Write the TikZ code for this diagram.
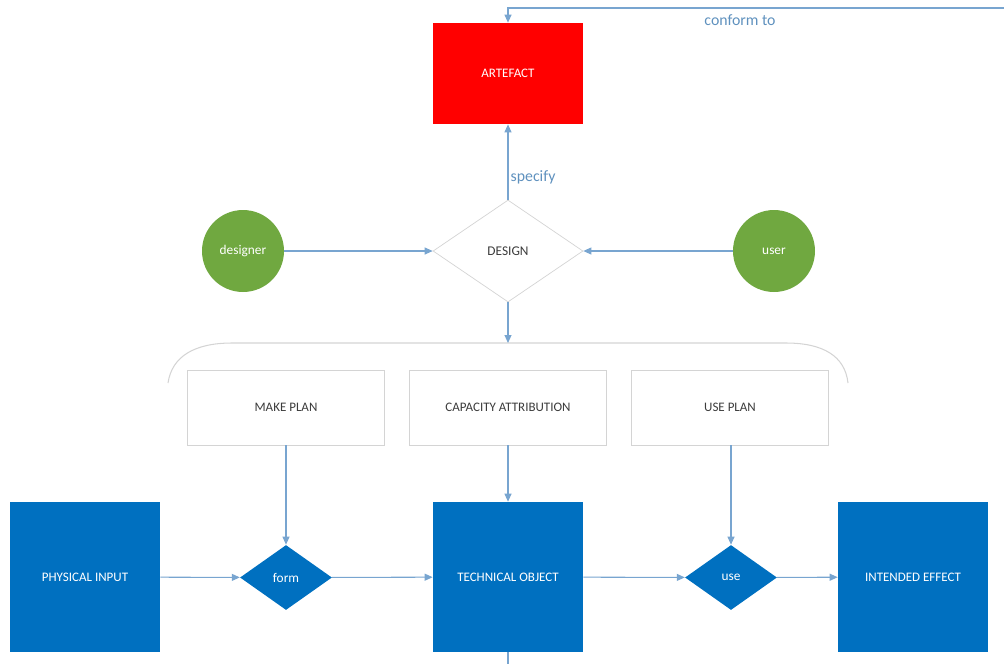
\documentclass[tikz,border=0pt]{standalone}
\usepackage{fontspec}
\setmainfont{Carlito}
\usepackage{tikz}
\usetikzlibrary{positioning,shapes.geometric,arrows.meta}

\definecolor{flowblue}{RGB}{0,112,192}
\definecolor{agentgreen}{RGB}{112,168,64}
\definecolor{linkblue}{RGB}{120,165,208}
\definecolor{labelblue}{RGB}{95,145,190}
\definecolor{boxgray}{RGB}{212,212,212}
\definecolor{textgray}{RGB}{60,60,60}

\tikzset{
  conn/.style={draw=linkblue, line width=0.6pt, -{Triangle[length=1.6mm,width=1.4mm]}},
  plainline/.style={draw=linkblue, line width=0.6pt},
  bluebox/.style={rectangle, fill=flowblue, text=white, minimum width=3cm, minimum height=3cm, font=\fontsize{7.4}{8}\selectfont},
  planbox/.style={rectangle, draw=boxgray, fill=white, text=textgray, minimum width=3.94cm, minimum height=1.5cm, font=\fontsize{7.4}{8}\selectfont},
  actdiamond/.style={diamond, fill=flowblue, text=white, inner sep=0pt, minimum width=1.84cm, minimum height=1.3cm, font=\fontsize{7.6}{8}\selectfont},
  agent/.style={circle, fill=agentgreen, text=white, inner sep=0pt, minimum size=1.64cm, font=\fontsize{7.6}{8}\selectfont},
  edgelabel/.style={text=labelblue, font=\fontsize{9}{10}\selectfont}
}

\begin{document}
\begin{tikzpicture}[x=0.02cm, y=-0.02cm]
    \useasboundingbox (0,0) rectangle (1004,664);

    % top part
    \node[rectangle, fill=red, text=white, minimum width=3cm, minimum height=2.02cm, font=\fontsize{7.4}{8}\selectfont] at (508,73.5) (artefact) {ARTEFACT};
    \node[diamond, draw=boxgray, fill=white, text=textgray, inner sep=0pt, minimum width=3cm, minimum height=2.04cm, font=\fontsize{7.6}{8}\selectfont] at (508,251) (design) {DESIGN};
    \node[agent] at (243,251) (designer) {designer};
    \node[agent] at (774,251) (user) {user};

    \coordinate (cfstart) at (1004,8);
    \draw[conn] (cfstart) -| (artefact.north);
    \node[edgelabel] at (740,20) (cflabel) {conform to};

    \draw[conn] (design.north) -- (artefact.south);
    \node[edgelabel, right=-2pt of design.north, yshift=0.45cm] (speclabel) {specify};
    \draw[conn] (designer) -- (design.west);
    \draw[conn] (user) -- (design.east);

    % bracket over the plans
    \coordinate (bracetop) at (508,343);
    \draw[boxgray, line width=0.6pt] (168,383) .. controls (172,356) and (195,343) .. (232,343)
        -- (786,343) .. controls (823,343) and (845,356) .. (848,383);
    \draw[conn] (design.south) -- (bracetop);

    \node[planbox] at (286,407.5) (makeplan) {MAKE PLAN};
    \node[planbox] at (508,407.5) (capacity) {CAPACITY ATTRIBUTION};
    \node[planbox] at (730,407.5) (useplan) {USE PLAN};

    % bottom row
    \node[bluebox] at (85,577) (physin) {PHYSICAL INPUT};
    \node[actdiamond] at (286,577.5) (form) {form};
    \node[bluebox] at (508,577) (techobj) {TECHNICAL OBJECT};
    \node[actdiamond] at (731,577.5) (use) {use};
    \node[bluebox] at (913,577) (effect) {INTENDED EFFECT};

    \draw[conn] (makeplan) -- (form);
    \draw[conn] (capacity) -- (techobj);
    \draw[conn] (useplan.south -| use.north) -- (use);

    \draw[conn] (physin) -- (form);
    \draw[conn] (form) -- (techobj);
    \draw[conn] (techobj) -- (use);
    \draw[conn] (use) -- (effect);

    \coordinate (tobelow) at (508,664);
    \draw[plainline] (techobj) -- (tobelow);
\end{tikzpicture}
\end{document}
